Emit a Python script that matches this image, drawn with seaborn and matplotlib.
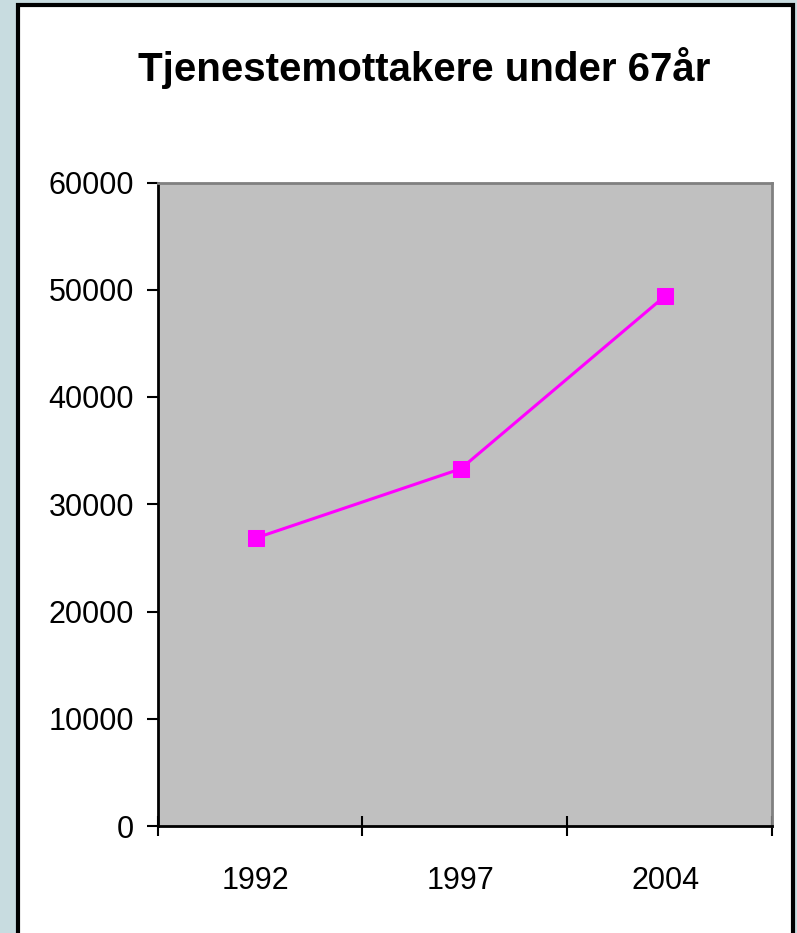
import seaborn as sns
import pandas as pd
import matplotlib.pyplot as plt
from matplotlib.patches import Rectangle

years = ['1992', '1997', '2004']
counts = [26850, 33300, 49450]
y_ticks = [0, 10000, 20000, 30000, 40000, 50000, 60000]

d = pd.DataFrame({'year': years, 'count': counts})

sns.set_style('white')
plt.rcParams['font.family'] = ['Liberation Sans', 'DejaVu Sans']
plt.rcParams['text.color'] = 'black'
plt.rcParams['xtick.color'] = 'black'
plt.rcParams['ytick.color'] = 'black'

fig = plt.figure(figsize=(7.97, 9.33), dpi=100)
fig.patch.set_facecolor('#c8dce0')
# white chart panel with black frame
fig.patches.append(Rectangle((18 / 797, -0.02), 775 / 797, 1.02 - 5 / 933,
                             transform=fig.transFigure, facecolor='white',
                             edgecolor='black', linewidth=3, zorder=-1))

ax = fig.add_axes([157.5 / 797, 1 - 826 / 933, (772 - 157.5) / 797, (826 - 182.5) / 933])
ax.set_zorder(2)
ax.set_facecolor('#c0c0c0')

sns.lineplot(data=d, x='year', y='count', ax=ax, color='#ff00ff', linewidth=2.2,
             marker='s', markersize=11, markeredgecolor='#ff00ff')

ax.set_xlim(-0.48, 2.52)
ax.set_ylim(0, 60000)
ax.set_yticks(y_ticks)
ax.set_yticklabels([str(v) for v in y_ticks])
ax.set_xticks([0, 1, 2])
ax.set_xticklabels(years)
ax.set_xticks([-0.48, 0.52, 1.52, 2.52], minor=True)
ax.set_xlabel('')
ax.set_ylabel('')

ax.tick_params(axis='y', direction='out', length=8, width=1.5, color='black',
               labelsize=22, pad=9, left=True)
ax.tick_params(axis='x', which='major', length=0, labelsize=22, pad=29)
ax.tick_params(axis='x', which='minor', direction='inout', length=15, width=1.5,
               color='black', bottom=True)

for side in ['left', 'bottom']:
    ax.spines[side].set_color('black')
    ax.spines[side].set_linewidth(2)
for side in ['top', 'right']:
    ax.spines[side].set_color('#808080')
    ax.spines[side].set_linewidth(2)

fig.text(424 / 797, 1 - 68 / 933, 'Tjenestemottakere under 67år',
         ha='center', va='center', fontsize=29, fontweight='bold', color='black')

fig.savefig('out.png', dpi=100, facecolor=fig.get_facecolor())
